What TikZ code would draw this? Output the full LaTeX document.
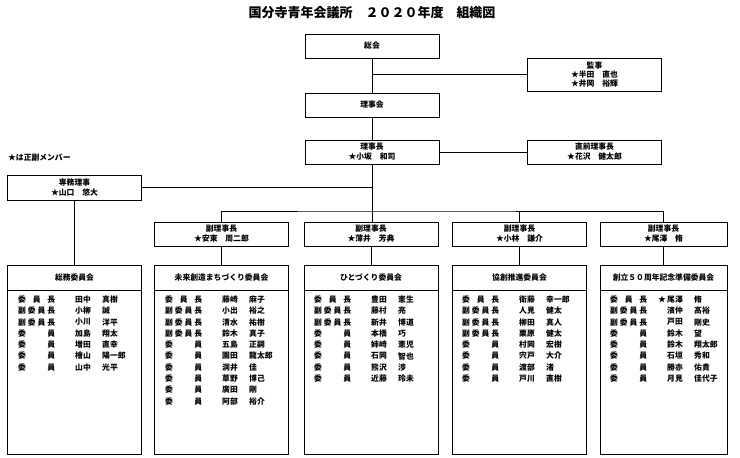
\documentclass[tikz,border=0pt]{standalone}
\usepackage{fontspec}
\newfontfamily\jp{Noto Sans CJK JP}
\newcommand\rA{\makebox[37pt][s]{委\hfill 員\hfill 長}}
\newcommand\rB{\makebox[37pt][s]{副\hfill 委\hfill 員\hfill 長}}
\newcommand\rC{\makebox[37pt][s]{委\hfill 員}}
\newcommand\mrow[5]{%
  \node[txt,anchor=west] at ({#1+10},{299.5+11.3*#2}) {#3};
  \node[txt,anchor=west] at ({#1+67},{299.5+11.3*#2}) {#4};
  \node[txt,anchor=west] at ({#1+94},{299.5+11.3*#2}) {#5};}
\begin{document}
\begin{tikzpicture}[x=1pt,y=-1pt,
  every node/.style={font=\jp\bfseries\fontsize{7.8}{9}\selectfont},
  txt/.style={inner sep=0pt},
  bx/.style={draw,line width=0.8pt,minimum width=134pt,align=center,inner sep=0pt},
  cbox/.style={draw,line width=0.8pt,minimum width=134pt,minimum height=189pt,inner sep=0pt},
  ln/.style={line width=0.6pt}]
\useasboundingbox (0,0) rectangle (740,458);
\node (title) at (372,13) {\fontsize{13}{15}\selectfont 国分寺青年会議所　２０２０年度　組織図};
\node[bx,minimum height=24pt] (soukai) at (372,46) {総会};
\node[bx,minimum height=33pt] (kanji) at (594.5,74.5) {監事\\[0pt]★半田　直也\\[0pt]★井岡　裕輝};
\node[bx,minimum height=24pt] (rijikai) at (372,105) {理事会};
\node[bx,minimum height=24pt] (richo) at (372,152) {理事長\\[1pt]★小坂　和司};
\node[bx,minimum height=24pt] (zen) at (594.5,152) {直前理事長\\[1pt]★花沢　健太郎};
\node[txt,anchor=west] (note) at (8,158) {★は正副メンバー};
\node[bx,minimum height=25pt] (senmu) at (74.5,187.5) {専務理事\\[1pt]★山口　悠大};
\node[bx,minimum height=24pt] (f1) at (221.5,234) {副理事長\\[1pt]★安東　周二郎};
\node[bx,minimum height=24pt] (f2) at (371,234) {副理事長\\[1pt]★薄井　芳典};
\node[bx,minimum height=24pt] (f3) at (519.5,234) {副理事長\\[1pt]★小林　謙介};
\node[bx,minimum width=127pt,minimum height=24pt] (f4) at (663.5,234) {副理事長\\[1pt]★尾澤　脩};
\coordinate (bus) at (372,211);
\draw[ln] (soukai) -- (rijikai);
\draw[ln] (soukai.south |- kanji.west) -- (kanji.west);
\draw[ln] (rijikai) -- (richo);
\draw[ln] (richo) -- (zen);
\draw[ln] (richo.south) -- (bus);
\draw[ln] (senmu.east) -- (richo.south |- senmu.east);
\draw[ln] (f1.north) |- (bus) -| (f4.north);
\draw[ln] (f3.north) -- (f3.north |- bus);
\draw[ln] (bus) -- (f2.north -| bus);
% committees
\node[cbox] (c1) at (74.5,359.5) {};
\node[cbox] (c2) at (221.5,359.5) {};
\node[cbox] (c3) at (371,359.5) {};
\node[cbox] (c4) at (519.5,359.5) {};
\node[cbox,minimum width=127pt] (c5) at (663.5,359.5) {};
\foreach \c in {c1,c2,c3,c4,c5}{
  \draw[line width=0.8pt] ([yshift=-26pt]\c.north west) -- ([yshift=-26pt]\c.north east);}
\node (h1) at ([yshift=-13pt]c1.north) {総務委員会};
\node (h2) at ([yshift=-13pt]c2.north) {未来創造まちづくり委員会};
\node (h3) at ([yshift=-13pt]c3.north) {ひとづくり委員会};
\node (h4) at ([yshift=-13pt]c4.north) {協創推進委員会};
\node (h5) at ([yshift=-13pt]c5.north) {創立５０周年記念準備委員会};
\draw[ln] (senmu.south) -- (c1.north -| senmu.south);
\draw[ln] (f1.south) -- (c2.north -| f1.south);
\draw[ln] (f2.south) -- (c3.north -| f2.south);
\draw[ln] (f3.south) -- (c4.north -| f3.south);
\draw[ln] (f4.south) -- (c5.north -| f4.south);
% members
\mrow{8}{0}{\rA}{田中}{真樹}
\mrow{8}{1}{\rB}{小柳}{誠}
\mrow{8}{2}{\rB}{小川}{洋平}
\mrow{8}{3}{\rC}{加島}{翔太}
\mrow{8}{4}{\rC}{増田}{直幸}
\mrow{8}{5}{\rC}{檜山}{陽一郎}
\mrow{8}{6}{\rC}{山中}{光平}
\mrow{155}{0}{\rA}{藤崎}{麻子}
\mrow{155}{1}{\rB}{小出}{裕之}
\mrow{155}{2}{\rB}{清水}{祐樹}
\mrow{155}{3}{\rB}{鈴木}{真子}
\mrow{155}{4}{\rC}{五島}{正嗣}
\mrow{155}{5}{\rC}{園田}{龍太郎}
\mrow{155}{6}{\rC}{洞井}{佳}
\mrow{155}{7}{\rC}{草野}{博己}
\mrow{155}{8}{\rC}{廣田}{剛}
\mrow{155}{9}{\rC}{阿部}{裕介}
\mrow{304}{0}{\rA}{豊田}{憲生}
\mrow{304}{1}{\rB}{藤村}{亮}
\mrow{304}{2}{\rB}{新井}{博道}
\mrow{304}{3}{\rC}{本橋}{巧}
\mrow{304}{4}{\rC}{姉崎}{憲児}
\mrow{304}{5}{\rC}{石岡}{智也}
\mrow{304}{6}{\rC}{熊沢}{渉}
\mrow{304}{7}{\rC}{近藤}{玲未}
\mrow{452}{0}{\rA}{衛藤}{幸一郎}
\mrow{452}{1}{\rB}{人見}{健太}
\mrow{452}{2}{\rB}{柳田}{真人}
\mrow{452}{3}{\rB}{栗原}{健太}
\mrow{452}{4}{\rC}{村岡}{宏樹}
\mrow{452}{5}{\rC}{宍戸}{大介}
\mrow{452}{6}{\rC}{渡部}{渚}
\mrow{452}{7}{\rC}{戸川}{直樹}
\mrow{600}{0}{\rA}{尾澤}{脩}
\node[txt,anchor=east] (star5) at (666,299.5) {★};
\mrow{600}{1}{\rB}{濱仲}{高裕}
\mrow{600}{2}{\rB}{戸田}{剛史}
\mrow{600}{3}{\rC}{鈴木}{望}
\mrow{600}{4}{\rC}{鈴木}{翔太郎}
\mrow{600}{5}{\rC}{石垣}{秀和}
\mrow{600}{6}{\rC}{勝亦}{佑貴}
\mrow{600}{7}{\rC}{月見}{佳代子}
\end{tikzpicture}
\end{document}
